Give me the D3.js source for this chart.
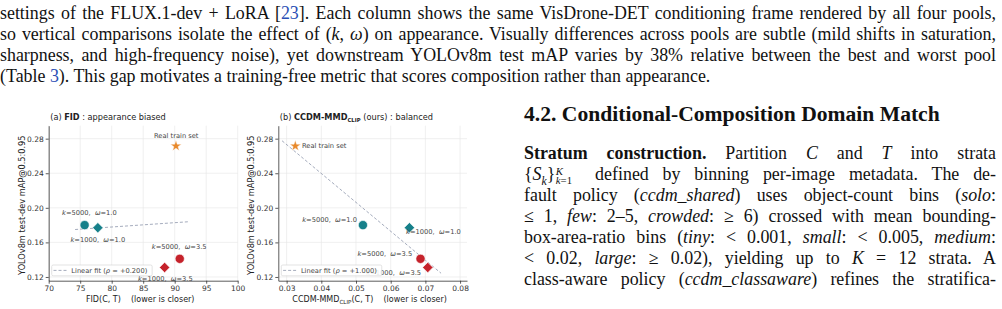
<!DOCTYPE html>
<html lang="en">
<head>
    <meta charset="UTF-8">
    <title>FID vs CCDM-MMD</title>
    <script src="https://cdn.jsdelivr.net/npm/d3@7"></script>
    <style>
        body {
            margin: 0;
            width: 1002px;
            height: 309px;
            position: relative;
            overflow: hidden;
            background: #fff;
        }
        #fig {
            position: absolute;
            left: 0;
            top: 0;
        }
        .ln {
            position: absolute;
            font-family: "Liberation Serif", "Times New Roman", serif;
            font-size: 17.9px;
            line-height: 21px;
            color: #111;
            text-align: justify;
            text-align-last: justify;
        }
        .ln.last {
            text-align-last: left;
        }
        .head {
            position: absolute;
            font-family: "Liberation Serif", serif;
            font-weight: bold;
            font-size: 21.6px;
            line-height: 26px;
            color: #111;
            white-space: nowrap;
        }
        .ref { color: #2a4fb5; }
        .m { font-style: italic; }
        .ss {
            display: inline-block;
            position: relative;
            width: 1.45em;
            height: 0.4em;
        }
        .ss span {
            position: absolute;
            left: 0.05em;
            font-size: 0.6em;
            line-height: 1;
            white-space: nowrap;
        }
        .axis text {
            font-family: "DejaVu Sans", sans-serif;
            font-size: 7.5px;
            fill: #333;
        }
        .axis path, .axis line {
            stroke: #333;
            stroke-width: 0.8;
        }
        .grid line {
            stroke: #e6e6e6;
            stroke-width: 0.6;
        }
        .lbl {
            font-family: "DejaVu Sans", sans-serif;
            fill: #222;
            white-space: pre;
        }
        .note {
            font-family: "DejaVu Sans", sans-serif;
            font-size: 6.7px;
            fill: #444;
            white-space: pre;
        }
    </style>
</head>
<body>
    <svg id="fig" width="1002" height="309"></svg>

    <!-- top paragraph -->
    <div class="ln" style="left:0px; width:996px; top:3.4px;">settings of the FLUX.1-dev + LoRA [<span class="ref">23</span>]. Each column shows the same VisDrone-DET conditioning frame rendered by all four pools,</div>
    <div class="ln" style="left:0px; width:996px; top:24.2px;">so vertical comparisons isolate the effect of (<span class="m">k</span>, <span class="m">ω</span>) on appearance. Visually differences across pools are subtle (mild shifts in saturation,</div>
    <div class="ln" style="left:0px; width:996px; top:45px;">sharpness, and high-frequency noise), yet downstream YOLOv8m test mAP varies by 38% relative between the best and worst pool</div>
    <div class="ln last" style="left:0px; width:996px; top:65.8px;">(Table <span class="ref">3</span>). This gap motivates a training-free metric that scores composition rather than appearance.</div>

    <!-- right column -->
    <div class="head" style="left:524px; top:101px;">4.2. Conditional-Composition Domain Match</div>
    <div class="ln" style="left:524px; width:472px; top:142.7px;"><b>Stratum construction.</b> Partition <span class="m">C</span> and <span class="m">T</span> into strata</div>
    <div class="ln" style="left:524px; width:472px; top:163.7px;">{<span class="m">S<sub style="font-size:0.65em; line-height:0">k</sub></span>}<span class="ss"><span class="m" style="top:-0.6em">K</span><span style="top:0.2em"><i>k</i>=1</span></span> defined by binning per-image metadata. The de-</div>
    <div class="ln" style="left:524px; width:472px; top:184.7px;">fault policy (<span class="m">ccdm_shared</span>) uses object-count bins (<span class="m">solo</span>:</div>
    <div class="ln" style="left:524px; width:472px; top:205.7px;">≤ 1, <span class="m">few</span>: 2–5, <span class="m">crowded</span>: ≥ 6) crossed with mean bounding-</div>
    <div class="ln" style="left:524px; width:472px; top:226.7px;">box-area-ratio bins (<span class="m">tiny</span>: &lt; 0.001, <span class="m">small</span>: &lt; 0.005, <span class="m">medium</span>:</div>
    <div class="ln" style="left:524px; width:472px; top:247.7px;">&lt; 0.02, <span class="m">large</span>: ≥ 0.02), yielding up to <span class="m">K</span> = 12 strata. A</div>
    <div class="ln" style="left:524px; width:472px; top:268.7px;">class-aware policy (<span class="m">ccdm_classaware</span>) refines the stratifica-</div>

    <script>
        // ---- data ----
        const poolK = [5000, 1000, 5000, 1000];
        const poolOmega = [1.0, 1.0, 3.5, 3.5];
        const poolMap = [0.180, 0.177, 0.141, 0.131];
        const poolFid = [75.7, 77.8, 90.8, 88.4];
        const poolCcdm = [0.0520, 0.0654, 0.0686, 0.0707];
        const realMap = 0.2715;
        const realFid = 90.2;
        const realCcdm = 0.0325;
        const rhoFid = 0.200;
        const rhoCcdm = 1.000;

        const yTicks = [0.12, 0.16, 0.20, 0.24, 0.28];
        const fidTicks = [70, 75, 80, 85, 90, 95, 100];
        const ccdmTicks = [0.03, 0.04, 0.05, 0.06, 0.07, 0.08];
        const mapDomain = [0.1157, 0.295];
        const fidDomain = [70, 100];
        const ccdmDomain = [0.0276, 0.082];

        const svg = d3.select("#fig");
        const plotTop = 125.7, plotBottom = 280.7;

        const yScale = d3.scaleLinear().domain(mapDomain).range([plotBottom, plotTop]);

        const teal = "#16808a", red = "#c5222b", orange = "#e8892b";

        const panels = [
            {
                left: 48.7, right: 237.7,
                xs: poolFid, realX: realFid, ticks: fidTicks, domain: fidDomain,
                fmt: d3.format("d"), rho: rhoFid,
                title: [["(a) ", ""], ["FID", "bold"], [" : appearance biased", ""]],
                xlabel: [["FID(C, T)    (lower is closer)", ""]],
                notes: [
                    {dx: 4.8, dy: -12, anchor: "middle"},
                    {dx: 0, dy: 12, anchor: "middle"},
                    {dx: -0.5, dy: -11.7, anchor: "middle"},
                    {dx: 0.7, dy: 11.6, anchor: "middle"}
                ],
                realNote: {dx: 0.3, dy: -10, anchor: "middle"}
            },
            {
                left: 278.3, right: 467,
                xs: poolCcdm, realX: realCcdm, ticks: ccdmTicks, domain: ccdmDomain,
                fmt: d3.format(".2f"), rho: rhoCcdm,
                title: [["(b) ", ""], ["CCDM-MMD", "bold"], ["CLIP", "boldsub"], [" (ours) : balanced", "up"]],
                xlabel: [["CCDM-MMD", ""], ["CLIP", "sub"], ["(C, T)    (lower is closer)", "up"]],
                notes: [
                    {dx: -6, dy: -5, anchor: "end"},
                    {dx: -3.3, dy: 4.4, anchor: "start"},
                    {dx: -8.3, dy: -4.7, anchor: "end"},
                    {dx: -6.7, dy: 5, anchor: "end"}
                ],
                realNote: {dx: 6.7, dy: -0.5, anchor: "start"}
            }
        ];

        // build a text out of plain / bold / subscript pieces
        function addParts(text, parts, size) {
            parts.forEach(([s, kind]) => {
                const t = text.append("tspan").text(s);
                if (kind === "bold") t.attr("font-weight", "bold");
                if (kind === "boldsub") t.attr("font-weight", "bold").attr("font-size", size * 0.65).attr("dy", size * 0.25);
                if (kind === "sub") t.attr("font-size", size * 0.7).attr("dy", size * 0.25);
                if (kind === "up") t.attr("dy", -size * 0.25);
            });
        }

        function poolNote(text, i) {
            text.append("tspan").attr("font-style", "italic").text("k");
            text.append("tspan").text("=" + poolK[i] + ",  ");
            text.append("tspan").attr("font-style", "italic").text("ω");
            text.append("tspan").text("=" + d3.format(".1f")(poolOmega[i]));
        }

        panels.forEach(p => {
            const x = d3.scaleLinear().domain(p.domain).range([p.left, p.right]);
            const g = svg.append("g");

            // grid
            const grid = g.append("g").attr("class", "grid");
            grid.selectAll(".gx").data(p.ticks).enter().append("line")
                .attr("x1", d => x(d)).attr("x2", d => x(d))
                .attr("y1", plotTop).attr("y2", plotBottom);
            grid.selectAll(".gy").data(yTicks).enter().append("line")
                .attr("x1", p.left).attr("x2", p.right)
                .attr("y1", d => yScale(d)).attr("y2", d => yScale(d));

            // axes
            g.append("g").attr("class", "axis")
                .attr("transform", `translate(${p.left},0)`)
                .call(d3.axisLeft(yScale).tickValues(yTicks).tickFormat(d3.format(".2f")).tickSizeInner(3).tickSizeOuter(0).tickPadding(2));
            g.append("g").attr("class", "axis")
                .attr("transform", `translate(0,${plotBottom})`)
                .call(d3.axisBottom(x).tickValues(p.ticks).tickFormat(p.fmt).tickSizeInner(3).tickSizeOuter(0).tickPadding(2));

            // linear fit over all five points, extended 10% of the range on each side
            const xsAll = p.xs.concat([p.realX]);
            const ysAll = poolMap.concat([realMap]);
            const mx = d3.mean(xsAll), my = d3.mean(ysAll);
            const slope = d3.sum(xsAll, (v, i) => (v - mx) * (ysAll[i] - my)) / d3.sum(xsAll, v => (v - mx) * (v - mx));
            const [lo, hi] = d3.extent(xsAll);
            const pad = (hi - lo) * 0.1;
            const fitX = [lo - pad, hi + pad];
            g.append("line")
                .attr("x1", x(fitX[0])).attr("y1", yScale(my + slope * (fitX[0] - mx)))
                .attr("x2", x(fitX[1])).attr("y2", yScale(my + slope * (fitX[1] - mx)))
                .attr("stroke", "#8d96ab").attr("stroke-width", 0.8).attr("stroke-dasharray", "3,2");

            // pool markers
            p.xs.forEach((v, i) => {
                const cx = x(v), cy = yScale(poolMap[i]);
                const col = poolOmega[i] < 2 ? teal : red;
                if (poolK[i] === 5000) {
                    g.append("circle").attr("cx", cx).attr("cy", cy).attr("r", 4.6)
                        .attr("fill", col).attr("stroke", "#fff").attr("stroke-width", 0.6);
                } else {
                    g.append("path").attr("d", d3.symbol(d3.symbolSquare, 54)())
                        .attr("transform", `translate(${cx},${cy}) rotate(45)`)
                        .attr("fill", col).attr("stroke", "#fff").attr("stroke-width", 0.6);
                }
                const n = p.notes[i];
                const t = g.append("text").attr("class", "note")
                    .attr("x", cx + n.dx).attr("y", cy + n.dy + 2.3)
                    .attr("text-anchor", n.anchor);
                poolNote(t, i);
            });

            // real train set
            const rx = x(p.realX), ry = yScale(realMap);
            g.append("path").attr("d", d3.symbol(d3.symbolStar, 36)())
                .attr("transform", `translate(${rx},${ry})`)
                .attr("fill", orange).attr("stroke", "#fff").attr("stroke-width", 0.4);
            g.append("text").attr("class", "note")
                .attr("x", rx + p.realNote.dx).attr("y", ry + p.realNote.dy + 2.3)
                .attr("text-anchor", p.realNote.anchor)
                .text("Real train set");

            // legend
            const lg = g.append("g");
            const box = lg.append("rect")
                .attr("x", p.left + 3).attr("y", 265).attr("height", 10.8).attr("rx", 1.5)
                .attr("fill", "#fff").attr("fill-opacity", 0.88)
                .attr("stroke", "#d0d0d0").attr("stroke-width", 0.6);
            lg.append("line")
                .attr("x1", p.left + 4.8).attr("x2", p.left + 19.6)
                .attr("y1", 270.4).attr("y2", 270.4)
                .attr("stroke", "#8d96ab").attr("stroke-width", 0.8).attr("stroke-dasharray", "3,2");
            const lt = lg.append("text").attr("class", "note")
                .attr("x", p.left + 22.6).attr("y", 272.7);
            lt.append("tspan").text("Linear fit (");
            lt.append("tspan").attr("font-style", "italic").text("ρ");
            lt.append("tspan").text(" = " + d3.format("+.3f")(p.rho) + ")");
            box.attr("width", lt.node().getComputedTextLength() + 24.5);

            // title
            const title = g.append("text").attr("class", "lbl").attr("font-size", 8.2)
                .attr("x", p.left + 1.5).attr("y", 119.8);
            addParts(title, p.title, 8.2);

            // x label
            const xl = g.append("text").attr("class", "lbl").attr("font-size", 8)
                .attr("text-anchor", "middle")
                .attr("x", (p.left + p.right) / 2 - 3).attr("y", 302);
            addParts(xl, p.xlabel, 8);

            // y label
            g.append("text").attr("class", "lbl").attr("font-size", 8.2)
                .attr("text-anchor", "middle")
                .attr("transform", `translate(${p.left - 24.2},${(plotTop + plotBottom) / 2 + 2}) rotate(-90)`)
                .text("YOLOv8m test-dev mAP@0.5:0.95");
        });
    </script>
</body>
</html>
